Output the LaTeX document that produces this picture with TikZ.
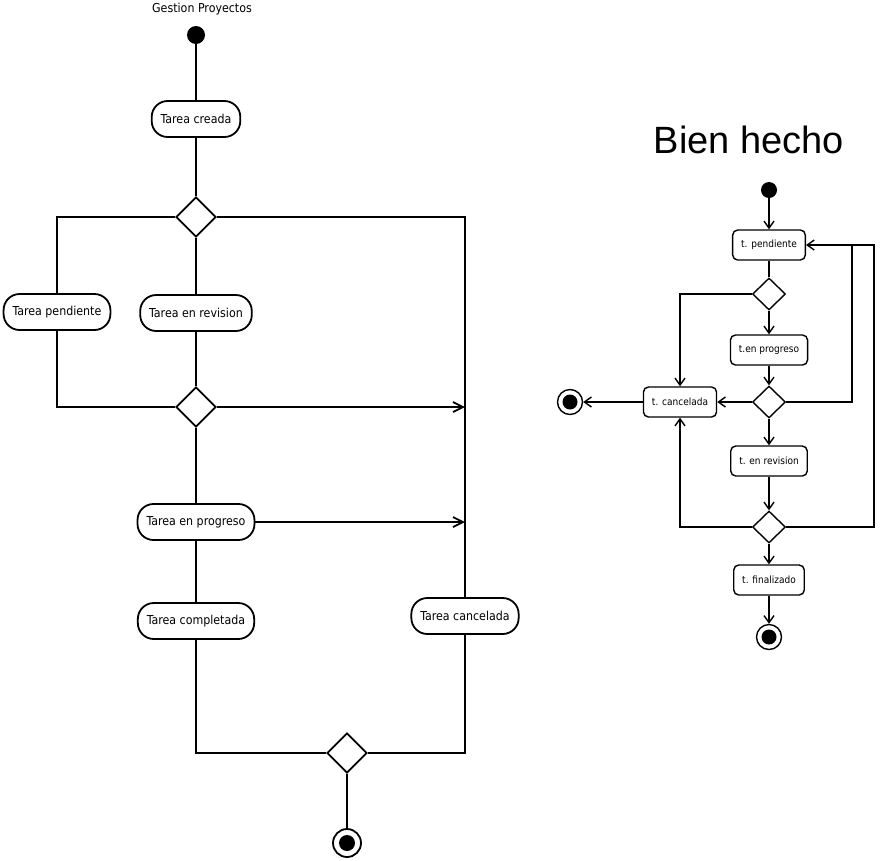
\documentclass[tikz,border=0pt]{standalone}
\usepackage{fontspec}
\setmainfont{DejaVu Sans Condensed}
\newfontfamily\titlefont{Liberation Sans}
\usetikzlibrary{arrows.meta,positioning,shapes.geometric}

\tikzset{
  flow/.style={line width=1.8pt},
  act/.style={draw, line width=1.8pt, rounded corners=16pt, minimum height=36pt, inner xsep=9pt, font=\fontsize{12.3}{14}\selectfont},
  dec/.style={draw, diamond, line width=1.8pt, minimum width=40pt, minimum height=40pt, inner sep=0pt},
  start/.style={circle, fill, minimum size=18pt, inner sep=0pt},
  stop/.style={circle, draw, line width=1.8pt, minimum size=28pt, inner sep=0pt, path picture={\fill (path picture bounding box.center) circle (8pt);}},
  arr/.style={line width=1.4pt, -{Straight Barb[length=7pt,width=10pt]}},
  box/.style={draw, line width=1.4pt, rounded corners=5pt, minimum height=30pt, inner xsep=8.5pt, font=\fontsize{10}{12}\selectfont},
  rdec/.style={draw, diamond, line width=1.4pt, minimum width=33pt, minimum height=32pt, inner sep=0pt},
  rstart/.style={circle, fill, minimum size=16pt, inner sep=0pt},
  rstop/.style={circle, draw, line width=1.4pt, minimum size=25pt, inner sep=0pt, path picture={\fill (path picture bounding box.center) circle (7.5pt);}}
}

\begin{document}
\begin{tikzpicture}[x=1pt, y=-1pt]
    \useasboundingbox (0,0) rectangle (880,860);

    % Gestion Proyectos
    \node[font=\fontsize{12.3}{14}\selectfont] (gp) at (202,9) {Gestion Proyectos};
    \node[start] (s) at (196,35) {};
    \node[act] (creada) at (196,119) {Tarea creada};
    \node[dec] (d1) at (196,217) {};
    \node[act] (pend) at (57,312) {Tarea pendiente};
    \node[act] (rev) at (196,313) {Tarea en revision};
    \node[dec] (d2) at (196,407) {};
    \node[act] (prog) at (196,522) {Tarea en progreso};
    \node[act] (comp) at (196,621) {Tarea completada};
    \node[act] (canc) at (465,616) {Tarea cancelada};
    \node[dec] (d3) at (347,753) {};
    \node[stop] (e) at (347,843) {};
    \coordinate (j1) at (465,407);
    \coordinate (j2) at (465,522);

    \draw[flow] (s) -- (creada);
    \draw[flow] (creada) -- (d1);
    \draw[flow] (d1.west) -| (pend);
    \draw[flow] (d1) -- (rev);
    \draw[flow] (d1.east) -| (canc);
    \draw[flow] (pend) |- (d2.west);
    \draw[flow] (rev) -- (d2);
    \draw[flow, -{Straight Barb[length=10pt,width=10pt]}] (d2.east) -- (j1);
    \draw[flow] (d2) -- (prog);
    \draw[flow, -{Straight Barb[length=10pt,width=10pt]}] (prog) -- (j2);
    \draw[flow] (prog) -- (comp);
    \draw[flow] (comp) |- (d3.west);
    \draw[flow] (canc) |- (d3.east);
    \draw[flow] (d3) -- (e);

    % Bien hecho
    \node[font=\titlefont\fontsize{38}{42}\selectfont] (bh) at (749,140) {Bien hecho};
    \node[rstart] (rs) at (769,190) {};
    \node[box] (tpend) at (769,245) {t. pendiente};
    \node[rdec] (r1) at (769,294) {};
    \node[box] (tprog) at (769,350) {t.en progreso};
    \node[rdec] (r2) at (769,402) {};
    \node[box] (tcanc) at (680,402) {t. cancelada};
    \node[rstop] (re1) at (570,402) {};
    \node[box] (trev) at (769,461) {t. en revision};
    \node[rdec] (r3) at (769,527) {};
    \node[box] (tfin) at (769,580) {t. finalizado};
    \node[rstop] (re2) at (769,637) {};
    \coordinate (la) at (852,245);
    \coordinate (lb) at (874,245);

    \draw[arr] (rs) -- (tpend);
    \draw[line width=1.4pt] (tpend) -- (r1);
    \draw[arr] (r1.west) -| (tcanc);
    \draw[arr] (r1) -- (tprog);
    \draw[arr] (tprog) -- (r2);
    \draw[arr] (r2) -- (tcanc);
    \draw[arr] (r2.east) -| (la) -- (tpend);
    \draw[arr] (tcanc) -- (re1);
    \draw[arr] (r2) -- (trev);
    \draw[arr] (trev) -- (r3);
    \draw[arr] (r3.west) -| (tcanc);
    \draw[line width=1.4pt] (r3.east) -| (lb) -- (la);
    \draw[arr] (r3) -- (tfin);
    \draw[arr] (tfin) -- (re2);
\end{tikzpicture}
\end{document}
